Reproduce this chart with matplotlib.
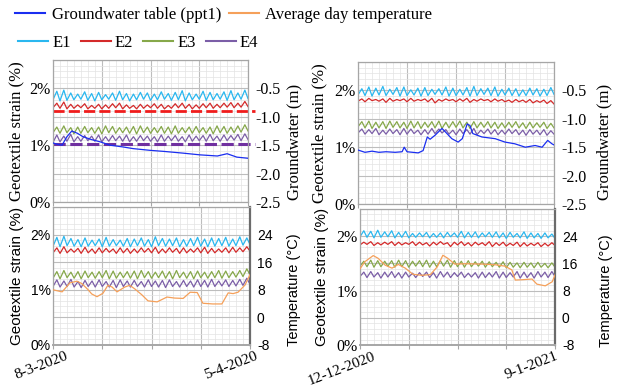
import numpy as np
import matplotlib
matplotlib.use("Agg")
import matplotlib.pyplot as plt
from matplotlib.lines import Line2D

SERIF = ["Liberation Serif", "DejaVu Serif"]
SANS = ["Liberation Sans", "DejaVu Sans"]

E1_COL = "#2ab7ef"
E2_COL = "#d42a2a"
E3_COL = "#86a84a"
E4_COL = "#7b5ea7"
GW_COL = "#1a2ef0"
TEMP_COL = "#f5a05a"
RED_DASH = "#f01c1c"
PURPLE_DASH = "#7030a0"
MAJOR_GRID = "#bdbdbd"
MINOR_GRID = "#e3e3e3"
SPINE = "#a6a6a6"
DARK_SPINE = "#6b6b6b"

# ---- data (strain in %, 28 days per panel: daily low at day start, daily peak) ----
DATES_SPRING = ["8-3-2020", "5-4-2020"]
DATES_WINTER = ["12-12-2020", "9-1-2021"]

E1_TL_LOW = [1.80, 1.78, 1.79, 1.80, 1.81, 1.79, 1.78, 1.80, 1.81, 1.79, 1.80, 1.78, 1.80, 1.81, 1.79,
             1.80, 1.81, 1.79, 1.80, 1.78, 1.80, 1.81, 1.79, 1.80, 1.81, 1.79, 1.80, 1.81, 1.82]
E1_TL_HIGH = [1.95, 1.97, 1.92, 1.90, 1.94, 1.91, 1.93, 1.89, 1.92, 1.95, 1.91, 1.90, 1.93, 1.92,
              1.90, 1.94, 1.91, 1.93, 1.96, 1.92, 1.90, 1.95, 1.93, 1.91, 1.94, 1.96, 1.92, 1.97]
E2_TL_LOW = [1.66, 1.65, 1.64, 1.65, 1.66, 1.64, 1.65, 1.64, 1.65, 1.66, 1.64, 1.65, 1.64, 1.65, 1.66,
             1.65, 1.64, 1.65, 1.66, 1.65, 1.64, 1.65, 1.66, 1.65, 1.66, 1.67, 1.66, 1.67, 1.68]
E2_TL_HIGH = [1.74, 1.76, 1.72, 1.71, 1.73, 1.70, 1.72, 1.71, 1.73, 1.74, 1.71, 1.70, 1.72, 1.71,
              1.73, 1.72, 1.70, 1.73, 1.74, 1.72, 1.71, 1.73, 1.74, 1.72, 1.74, 1.75, 1.74, 1.77]
E3_TL_LOW = [1.22, 1.21, 1.22, 1.20, 1.21, 1.22, 1.21, 1.20, 1.22, 1.21, 1.22, 1.21, 1.20, 1.22, 1.21,
             1.22, 1.21, 1.20, 1.21, 1.22, 1.21, 1.22, 1.21, 1.20, 1.22, 1.21, 1.22, 1.23, 1.25]
E3_TL_HIGH = [1.32, 1.34, 1.31, 1.32, 1.33, 1.31, 1.32, 1.34, 1.33, 1.31, 1.32, 1.33, 1.34, 1.32,
              1.31, 1.33, 1.32, 1.34, 1.31, 1.32, 1.33, 1.31, 1.32, 1.34, 1.33, 1.32, 1.34, 1.36]
E4_TL_LOW = [1.05, 1.06, 1.07, 1.06, 1.07, 1.08, 1.07, 1.06, 1.07, 1.08, 1.07, 1.06, 1.07, 1.08, 1.07,
             1.06, 1.07, 1.08, 1.07, 1.06, 1.07, 1.08, 1.07, 1.08, 1.07, 1.08, 1.09, 1.08, 1.10]
E4_TL_HIGH = [1.18, 1.16, 1.19, 1.15, 1.17, 1.16, 1.18, 1.15, 1.17, 1.16, 1.18, 1.15, 1.17, 1.16,
              1.15, 1.18, 1.16, 1.17, 1.15, 1.18, 1.16, 1.17, 1.19, 1.16, 1.18, 1.17, 1.19, 1.20]

E1_TR_LOW = [1.92, 1.91, 1.90, 1.92, 1.91, 1.93, 1.90, 1.91, 1.92, 1.90, 1.91, 1.93, 1.92, 1.90, 1.91,
             1.92, 1.90, 1.91, 1.93, 1.91, 1.90, 1.92, 1.91, 1.90, 1.91, 1.92, 1.90, 1.91, 1.93]
E1_TR_HIGH = [2.03, 2.06, 2.04, 2.07, 2.02, 2.05, 2.06, 2.01, 2.04, 2.05, 2.02, 2.03, 2.06, 2.04,
              2.02, 2.05, 2.07, 2.03, 2.04, 2.06, 2.02, 2.04, 2.03, 2.01, 2.04, 2.03, 2.02, 2.05]
E2_TR_LOW = [1.81, 1.80, 1.82, 1.81, 1.79, 1.81, 1.82, 1.80, 1.81, 1.82, 1.80, 1.78, 1.81, 1.82, 1.80,
             1.81, 1.79, 1.81, 1.82, 1.80, 1.81, 1.80, 1.79, 1.80, 1.79, 1.78, 1.79, 1.77, 1.76]
E2_TR_HIGH = [1.85, 1.86, 1.84, 1.85, 1.86, 1.84, 1.85, 1.86, 1.84, 1.85, 1.86, 1.84, 1.85, 1.84,
              1.85, 1.86, 1.84, 1.85, 1.84, 1.85, 1.84, 1.83, 1.84, 1.83, 1.84, 1.82, 1.83, 1.82]
E3_TR_LOW = [1.36, 1.34, 1.33, 1.34, 1.33, 1.35, 1.34, 1.33, 1.34, 1.33, 1.35, 1.34, 1.33, 1.34, 1.35,
             1.34, 1.33, 1.34, 1.35, 1.34, 1.33, 1.34, 1.35, 1.34, 1.33, 1.34, 1.35, 1.33, 1.34]
E3_TR_HIGH = [1.45, 1.46, 1.44, 1.45, 1.46, 1.45, 1.44, 1.46, 1.45, 1.44, 1.45, 1.46, 1.44, 1.45,
              1.46, 1.44, 1.45, 1.44, 1.45, 1.44, 1.43, 1.44, 1.45, 1.43, 1.44, 1.43, 1.44, 1.42]
E4_TR_LOW = [1.25, 1.23, 1.24, 1.22, 1.23, 1.24, 1.22, 1.23, 1.24, 1.22, 1.23, 1.24, 1.25, 1.23, 1.22,
             1.24, 1.23, 1.22, 1.24, 1.23, 1.22, 1.23, 1.24, 1.22, 1.21, 1.23, 1.22, 1.21, 1.23]
E4_TR_HIGH = [1.32, 1.31, 1.33, 1.30, 1.32, 1.31, 1.33, 1.32, 1.30, 1.31, 1.33, 1.32, 1.31, 1.30,
              1.32, 1.31, 1.33, 1.30, 1.32, 1.31, 1.30, 1.32, 1.31, 1.30, 1.31, 1.30, 1.31, 1.29]

E1_BL_LOW = [1.79, 1.78, 1.80, 1.79, 1.78, 1.79, 1.80, 1.78, 1.79, 1.80, 1.79, 1.78, 1.80, 1.79, 1.78,
             1.80, 1.79, 1.80, 1.78, 1.79, 1.80, 1.79, 1.78, 1.79, 1.80, 1.79, 1.80, 1.81, 1.82]
E1_BL_HIGH = [1.95, 1.97, 1.93, 1.91, 1.94, 1.90, 1.92, 1.95, 1.91, 1.90, 1.93, 1.92, 1.94, 1.91,
              1.96, 1.93, 1.92, 1.94, 1.91, 1.93, 1.95, 1.92, 1.94, 1.93, 1.95, 1.92, 1.96, 1.94]
E2_BL_LOW = [1.67, 1.66, 1.67, 1.68, 1.66, 1.67, 1.66, 1.67, 1.68, 1.66, 1.67, 1.66, 1.67, 1.68, 1.67,
             1.66, 1.67, 1.68, 1.66, 1.67, 1.68, 1.67, 1.66, 1.67, 1.68, 1.67, 1.68, 1.69, 1.70]
E2_BL_HIGH = [1.76, 1.78, 1.74, 1.75, 1.77, 1.74, 1.76, 1.75, 1.74, 1.76, 1.75, 1.74, 1.76, 1.75,
              1.77, 1.74, 1.76, 1.75, 1.76, 1.74, 1.76, 1.77, 1.75, 1.74, 1.76, 1.77, 1.76, 1.78]
E3_BL_LOW = [1.21, 1.20, 1.22, 1.21, 1.20, 1.22, 1.21, 1.22, 1.20, 1.21, 1.22, 1.21, 1.20, 1.22, 1.21,
             1.22, 1.21, 1.20, 1.22, 1.21, 1.20, 1.22, 1.21, 1.22, 1.21, 1.22, 1.23, 1.24, 1.27]
E3_BL_HIGH = [1.33, 1.35, 1.32, 1.33, 1.34, 1.32, 1.33, 1.35, 1.34, 1.32, 1.33, 1.34, 1.35, 1.33,
              1.32, 1.34, 1.33, 1.35, 1.32, 1.33, 1.34, 1.32, 1.33, 1.35, 1.34, 1.33, 1.35, 1.38]
E4_BL_LOW = [1.06, 1.05, 1.06, 1.05, 1.04, 1.06, 1.05, 1.06, 1.05, 1.04, 1.06, 1.05, 1.06, 1.05, 1.06,
             1.05, 1.04, 1.06, 1.05, 1.06, 1.05, 1.06, 1.05, 1.06, 1.07, 1.06, 1.07, 1.08, 1.10]
E4_BL_HIGH = [1.18, 1.16, 1.19, 1.15, 1.17, 1.16, 1.18, 1.15, 1.17, 1.18, 1.16, 1.17, 1.15, 1.18,
              1.16, 1.17, 1.18, 1.15, 1.17, 1.16, 1.18, 1.17, 1.19, 1.16, 1.18, 1.17, 1.19, 1.21]

E1_BR_LOW = [1.99, 1.98, 1.97, 1.98, 1.99, 1.97, 1.98, 1.97, 1.98, 1.99, 1.97, 1.98, 1.97, 1.99, 1.98,
             1.97, 1.98, 1.97, 1.99, 1.98, 1.97, 1.96, 1.98, 1.97, 1.96, 1.97, 1.96, 1.97, 1.96]
E1_BR_HIGH = [2.10, 2.09, 2.11, 2.08, 2.10, 2.07, 2.09, 2.05, 2.06, 2.07, 2.05, 2.06, 2.07, 2.06,
              2.09, 2.07, 2.08, 2.06, 2.07, 2.08, 2.06, 2.07, 2.05, 2.08, 2.06, 2.05, 2.06, 2.04]
E2_BR_LOW = [1.84, 1.85, 1.83, 1.84, 1.85, 1.83, 1.84, 1.85, 1.83, 1.84, 1.82, 1.84, 1.85, 1.81, 1.84,
             1.83, 1.82, 1.84, 1.83, 1.81, 1.83, 1.82, 1.83, 1.81, 1.82, 1.83, 1.81, 1.82, 1.83]
E2_BR_HIGH = [1.89, 1.90, 1.88, 1.89, 1.90, 1.89, 1.88, 1.90, 1.89, 1.88, 1.89, 1.90, 1.88, 1.89,
              1.90, 1.88, 1.89, 1.88, 1.90, 1.88, 1.89, 1.87, 1.89, 1.88, 1.87, 1.88, 1.87, 1.88]
E3_BR_LOW = [1.45, 1.44, 1.43, 1.44, 1.45, 1.43, 1.44, 1.43, 1.45, 1.44, 1.43, 1.44, 1.45, 1.43, 1.44,
             1.43, 1.44, 1.45, 1.43, 1.44, 1.43, 1.42, 1.43, 1.42, 1.43, 1.42, 1.43, 1.42, 1.43]
E3_BR_HIGH = [1.54, 1.56, 1.55, 1.54, 1.55, 1.56, 1.55, 1.54, 1.55, 1.56, 1.54, 1.55, 1.56, 1.55,
              1.54, 1.55, 1.53, 1.54, 1.53, 1.52, 1.53, 1.52, 1.51, 1.52, 1.51, 1.52, 1.50, 1.51]
E4_BR_LOW = [1.26, 1.24, 1.25, 1.23, 1.25, 1.24, 1.23, 1.25, 1.24, 1.26, 1.24, 1.23, 1.25, 1.24, 1.26,
             1.24, 1.25, 1.23, 1.24, 1.25, 1.23, 1.24, 1.25, 1.23, 1.24, 1.23, 1.25, 1.24, 1.26]
E4_BR_HIGH = [1.34, 1.35, 1.33, 1.34, 1.35, 1.33, 1.34, 1.32, 1.33, 1.34, 1.33, 1.35, 1.34, 1.33,
              1.34, 1.32, 1.33, 1.34, 1.33, 1.35, 1.34, 1.33, 1.35, 1.34, 1.33, 1.35, 1.34, 1.35]

# groundwater table (m), day index -> level
GW_TL_DAY = [0, 0.5, 1.3, 2.0, 2.7, 3.5, 4.3, 5.5, 6.75, 8.2, 10, 11.5, 13.9, 16, 18.7, 21.1,
             23.6, 25, 26.4, 28]
GW_TL = [-1.46, -1.48, -1.50, -1.35, -1.25, -1.29, -1.35, -1.40, -1.44, -1.50, -1.53, -1.56, -1.59,
         -1.61, -1.64, -1.67, -1.69, -1.65, -1.71, -1.73]
GW_TR_DAY = [0, 1, 2, 3, 4, 5.3, 6.3, 6.6, 7, 8.6, 9.3, 9.9, 10.3, 11, 12, 12.4, 13.4, 14.3, 14.9,
             15.6, 16, 16.4, 17.7, 19.6, 21, 22.4, 23.9, 25.3, 26.3, 27.1, 27.7, 28]
GW_TR = [-1.55, -1.59, -1.57, -1.59, -1.58, -1.59, -1.58, -1.50, -1.58, -1.60, -1.56, -1.32, -1.36,
         -1.29, -1.17, -1.22, -1.35, -1.41, -1.35, -1.09, -1.12, -1.26, -1.32, -1.35, -1.41, -1.44,
         -1.50, -1.47, -1.50, -1.38, -1.44, -1.46]

# average day temperature (deg C)
TEMP_BL_DAY = [0, 1.3, 2.4, 3.4, 4.1, 5.0, 5.5, 6.25, 7.1, 7.8, 8.4, 9.1, 10.2, 10.9, 11.6, 12.6,
               13.5, 14.8, 16.2, 17.3, 18.5, 19.5, 20.5, 21.3, 22.7, 24, 24.9, 25.6, 26.3, 27.3, 28]
TEMP_BL = [8.0, 7.4, 10.0, 10.5, 9.8, 8.0, 6.8, 6.0, 7.0, 9.3, 8.8, 7.4, 8.8, 9.3, 8.3, 6.6, 4.8,
           4.5, 5.9, 5.6, 5.5, 7.3, 7.2, 4.1, 3.9, 3.9, 7.1, 6.9, 7.3, 9.4, 12.4]
TEMP_BR_DAY = [0, 0.7, 1.9, 2.6, 3.6, 4.6, 5.5, 6.5, 7.6, 8.9, 10.1, 11.1, 11.9, 12.6, 13.6, 15.1,
               17.5, 19.4, 20.8, 21.8, 22.3, 23.3, 24.7, 25.4, 26.6, 27.6, 28]
TEMP_BR = [14.4, 16.5, 18.3, 17.5, 15.5, 14.6, 15.7, 14.6, 12.8, 12.5, 12.7, 15.0, 18.4, 17.5, 15.8,
           15.9, 15.8, 15.6, 15.2, 14.1, 11.1, 11.2, 11.4, 9.9, 9.4, 10.6, 12.6]

E2_LIMIT = 1.60
E4_LIMIT = 1.02


def daily(low, high, peak_at=0.55):
    t = np.empty(len(low) + len(high))
    v = np.empty_like(t)
    t[0::2] = np.arange(len(low))
    t[1::2] = np.arange(len(high)) + peak_at
    v[0::2] = low
    v[1::2] = high
    return t, v


def setup_strain(ax, tick_font, tick_size, label_font, label_size, label_x):
    ax.set_xlim(0, 28)
    ax.set_ylim(0, 2.5)
    ax.set_xticks([0, 7, 14, 21, 28])
    ax.set_xticks(np.arange(29), minor=True)
    ax.set_yticks(np.arange(0, 2.51, 0.5))
    ax.set_yticks(np.arange(0, 2.51, 0.1), minor=True)
    ax.set_yticklabels(["0%", "", "1%", "", "2%", ""], family=tick_font, fontsize=tick_size)
    ax.grid(which="major", color=MAJOR_GRID, lw=0.8)
    ax.grid(which="minor", color=MINOR_GRID, lw=0.5)
    ax.set_axisbelow(True)
    ax.tick_params(axis="y", which="both", length=0, pad=1.5)
    ax.tick_params(axis="x", which="minor", length=0)
    ax.tick_params(axis="x", which="major", length=3, color=SPINE, labelbottom=False)
    for s in ax.spines.values():
        s.set_color(SPINE)
        s.set_linewidth(0.9)
    ax.set_ylabel("Geotextile strain (%)", family=label_font, fontsize=label_size)
    ax.yaxis.set_label_coords(label_x, 0.5)


def plot_strain(ax, series):
    for low, high, col in series:
        t, v = daily(low, high)
        ax.plot(t, v, color=col, lw=0.9)


def setup_right(ax2, ylim, ticks, labels, font, size, title, title_font, title_size, lx, ly):
    ax2.set_ylim(*ylim)
    ax2.set_yticks(ticks)
    ax2.set_yticklabels(labels, family=font, fontsize=size)
    ax2.tick_params(axis="y", length=0, pad=5)
    ax2.set_ylabel(title, family=title_font, fontsize=title_size)
    ax2.yaxis.set_label_coords(lx, ly)
    for s in ax2.spines.values():
        s.set_visible(False)


def date_labels(ax, labels, offsets):
    for day, lbl, dx in zip((0, 28), labels, offsets):
        ax.annotate(lbl, xy=(day, 0), xycoords=("data", "axes fraction"),
                    xytext=(dx, -3.6), textcoords="offset points", rotation=21,
                    ha="right", va="top", rotation_mode="anchor",
                    family=SERIF, fontsize=11, annotation_clip=False)


fig = plt.figure(figsize=(6.2, 3.89), dpi=100)
W, H = 620, 389
ax_tl = fig.add_axes([53 / W, 1 - 202 / H, 195 / W, 142 / H])
ax_tr = fig.add_axes([358 / W, 1 - 204 / H, 196 / W, 142 / H])
ax_bl = fig.add_axes([53 / W, 1 - 345 / H, 197 / W, 138 / H])
ax_br = fig.add_axes([360 / W, 1 - 345 / H, 195 / W, 136 / H])

gw_ticks = [-2.5, -2.0, -1.5, -1.0, -0.5]
gw_labels = ["-2.5", "-2.0", "-1.5", "-1.0", "-0.5"]
t_ticks = [-8, 0, 8, 16, 24]
t_labels = ["-8", "0", "8", "16", "24"]

# top-left
setup_strain(ax_tl, SERIF, 11.5, SERIF, 12, -0.149)
plot_strain(ax_tl, [(E1_TL_LOW, E1_TL_HIGH, E1_COL), (E2_TL_LOW, E2_TL_HIGH, E2_COL),
                    (E3_TL_LOW, E3_TL_HIGH, E3_COL), (E4_TL_LOW, E4_TL_HIGH, E4_COL)])
ax_tl.axhline(E2_LIMIT, xmin=0, xmax=1.035, color=RED_DASH, lw=2, ls=(0, (4, 1.5)), clip_on=False)
ax_tl.axhline(E4_LIMIT, xmin=0, xmax=1.035, color=PURPLE_DASH, lw=2.2, ls=(0, (4, 1.5)), clip_on=False)
tl2 = ax_tl.twinx()
tl2.plot(GW_TL_DAY, GW_TL, color=GW_COL, lw=0.9)
setup_right(tl2, (-2.5, 0), gw_ticks, gw_labels, SERIF, 11.5, "Groundwater (m)", SERIF, 12, 1.195, 0.42)

# top-right
setup_strain(ax_tr, SERIF, 11.5, SERIF, 12, -0.158)
plot_strain(ax_tr, [(E1_TR_LOW, E1_TR_HIGH, E1_COL), (E2_TR_LOW, E2_TR_HIGH, E2_COL),
                    (E3_TR_LOW, E3_TR_HIGH, E3_COL), (E4_TR_LOW, E4_TR_HIGH, E4_COL)])
tr2 = ax_tr.twinx()
tr2.plot(GW_TR_DAY, GW_TR, color=GW_COL, lw=0.9)
setup_right(tr2, (-2.5, 0), gw_ticks, gw_labels, SERIF, 11.5, "Groundwater (m)", SERIF, 12, 1.214, 0.44)

# bottom-left
setup_strain(ax_bl, SANS, 10, SANS, 11, -0.147)
plot_strain(ax_bl, [(E1_BL_LOW, E1_BL_HIGH, E1_COL), (E2_BL_LOW, E2_BL_HIGH, E2_COL),
                    (E3_BL_LOW, E3_BL_HIGH, E3_COL), (E4_BL_LOW, E4_BL_HIGH, E4_COL)])
bl2 = ax_bl.twinx()
bl2.plot(TEMP_BL_DAY, TEMP_BL, color=TEMP_COL, lw=0.9)
setup_right(bl2, (-8, 32), t_ticks, t_labels, SANS, 10, "Temperature (\u00b0C)", SANS, 10.5, 1.188, 0.40)
date_labels(ax_bl, DATES_SPRING, (8.6, 3.6))

# bottom-right
setup_strain(ax_br, SERIF, 11.5, SANS, 11, -0.159)
plot_strain(ax_br, [(E1_BR_LOW, E1_BR_HIGH, E1_COL), (E2_BR_LOW, E2_BR_HIGH, E2_COL),
                    (E3_BR_LOW, E3_BR_HIGH, E3_COL), (E4_BR_LOW, E4_BR_HIGH, E4_COL)])
br2 = ax_br.twinx()
br2.plot(TEMP_BR_DAY, TEMP_BR, color=TEMP_COL, lw=0.9)
setup_right(br2, (-8, 32), t_ticks, t_labels, SANS, 10, "Temperature (\u00b0C)", SANS, 10.5, 1.226, 0.40)
date_labels(ax_br, DATES_WINTER, (9.4, 0))

for ax in (ax_bl, ax_br):
    ax.spines["right"].set_color(DARK_SPINE)
    ax.spines["right"].set_linewidth(1.6)
    ax.spines["bottom"].set_linewidth(1.4)

# legends
h1 = [Line2D([], [], color=GW_COL, lw=1.5), Line2D([], [], color=TEMP_COL, lw=1.5)]
fig.legend(h1, ["Groundwater table (ppt1)", "Average day temperature"], ncol=2,
           loc="upper left", bbox_to_anchor=(15 / W, 1 - 7 / H), frameon=False,
           borderpad=0, borderaxespad=0, handlelength=1.8, handletextpad=0.4,
           columnspacing=0.45, prop={"family": SERIF, "size": 12})
h2 = [Line2D([], [], color=c, lw=1.5) for c in (E1_COL, E2_COL, E3_COL, E4_COL)]
fig.legend(h2, ["E1", "E2", "E3", "E4"], ncol=4, loc="upper left",
           bbox_to_anchor=(18 / W, 1 - 35 / H), frameon=False, borderpad=0,
           borderaxespad=0, handlelength=1.8, handletextpad=0.25, columnspacing=0.6,
           prop={"family": SERIF, "size": 12})

fig.savefig("out.png", dpi=100)
